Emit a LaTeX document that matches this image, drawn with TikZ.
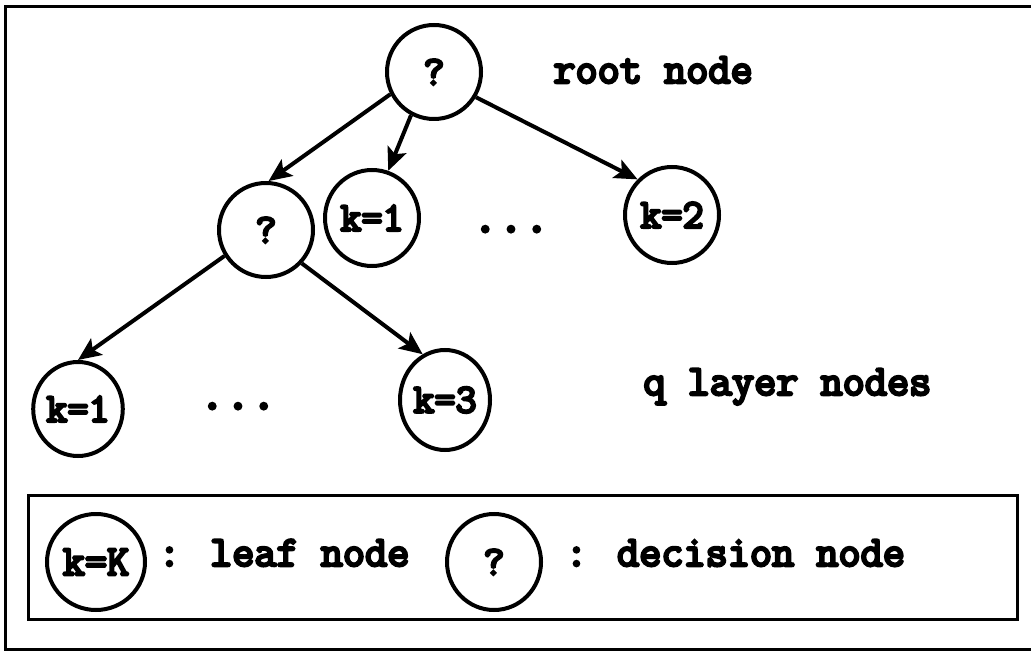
\documentclass[tikz,border=0pt]{standalone}
\usepackage{fontspec}
\newfontfamily\cour[FakeBold=6]{Latin Modern Mono}
\usetikzlibrary{arrows.meta,shapes.geometric}
\begin{document}
\begin{tikzpicture}[x=0.5pt,y=-0.5pt,
  nd/.style={draw, ellipse, line width=2pt, inner sep=0pt,
    minimum width=47pt, minimum height=47pt,
    font=\cour\fontsize{20.5}{22}\selectfont},
  lbl/.style={anchor=base west, inner sep=0pt,
    font=\cour\fontsize{21.5}{23}\selectfont},
  dots/.style={anchor=base, inner sep=0pt,
    font=\cour\fontsize{25}{27}\selectfont},
  arr/.style={line width=2pt, -{Stealth[length=11.5pt,width=10pt,inset=2.5pt]}},
  frame/.style={line width=1.5pt}]
\useasboundingbox (0,0) rectangle (1031,651);

% outer frame
\draw[frame] (5,651) -- (5,7) -- (1031,7);
\draw[frame] (5,649) -- (1031,649);

% tree nodes
\node[nd] (root) at (434,72) {?};
\node[nd, minimum height=48pt] (k1a) at (372,218) {k=1};
\node[nd, minimum height=48pt] (k2) at (672,215) {k=2};
\node[nd] (mid) at (266,230) {?};
\node[nd, minimum width=44pt] (k1b) at (78,409) {k=1};
\node[nd, minimum width=45pt, minimum height=50pt] (k3) at (445,400) {k=3};

\node[dots] (d1) at (511,232) {...};
\node[dots] (d2) at (238,409) {...};

\node[lbl] (rootlbl) at (553,83) {root node};
\node[lbl] (qlbl) at (643,395) {q layer nodes};

% arrows
\draw[arr] (root.207) -- (mid.87);
\draw[arr] (root.242) -- (k1a.71);
\draw[arr] (root.329) -- (k2.134);
\draw[arr] (mid.212) -- (k1b.90);
\draw[arr] (mid.317) -- (k3.116);

% legend
\node[draw, frame, inner sep=0pt, minimum width=494.5pt, minimum height=62pt, anchor=north west] (legend) at (27,494) {};
\node[nd, minimum width=49pt, minimum height=48pt, font=\cour\fontsize{21.5}{23}\selectfont] (legK) at (96,562) {k=K};
\node[lbl] (leaflbl) at (158,566) {: leaf node};
\node[nd, minimum height=48pt] (legQ) at (494,562) {?};
\node[lbl] (declbl) at (565,566) {: decision node};
\end{tikzpicture}
\end{document}
